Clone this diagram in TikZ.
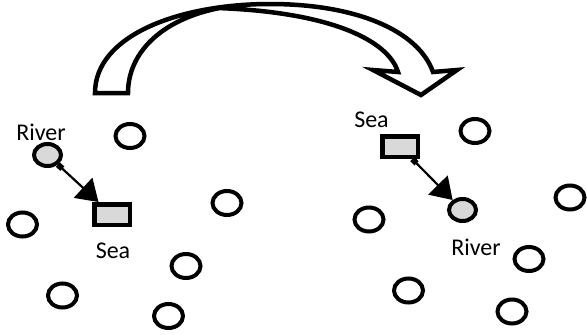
\documentclass[tikz,border=0pt]{standalone}
\usepackage{fontspec}
\setmainfont{Carlito}
\usetikzlibrary{shapes.geometric,arrows.meta}
\definecolor{lgray}{HTML}{D9D9D9}
\tikzset{
  ring/.style={ellipse, draw, line width=4pt, minimum width=29pt, minimum height=24pt, inner sep=0pt},
  river/.style={ellipse, draw, fill=lgray, line width=4pt, minimum width=27pt, minimum height=22pt, inner sep=0pt},
  seabox/.style={rectangle, draw, fill=lgray, line width=4.5pt, minimum width=35.5pt, minimum height=20.5pt, inner sep=0pt},
  lbl/.style={font=\fontsize{24}{28}\selectfont, anchor=base, inner sep=0pt},
  conn/.style={line width=2.2pt, {Square[length=6pt,width=6pt]}-{Triangle[length=21pt,width=27pt]}},
  bigarrow/.style={fill=white, draw, line width=4.5pt, line join=miter}
}
\begin{document}
\begin{tikzpicture}[x=1pt,y=-1pt]
\useasboundingbox (0,0) rectangle (587,335);
% big curved arrow
\path[bigarrow]
  (95,93) .. controls (95,35) and (180,4) .. (270,4)
  .. controls (355,4) and (418,30) .. (433,72)
  -- (457,70) -- (421,95) -- (373,70) -- (398,72)
  .. controls (388,40) and (330,12) .. (217,8)
  -- (243,5)
  .. controls (175,10) and (128,45) .. (128,93)
  -- cycle;
% left scene
\node[ring] (c1) at (130,136) {};
\node[ring] (c2) at (227,203) {};
\node[ring] (c3) at (22.5,224.5) {};
\node[ring] (c4) at (186,266) {};
\node[ring] (c5) at (62.5,295.5) {};
\node[ring] (c6) at (168.5,316) {};
\node[river] (rl) at (47.5,155) {};
\node[seabox] (sl) at (112,214.5) {};
\node[lbl] (trl) at (41,140) {River};
\node[lbl] (tsl) at (113,258) {Sea};
\draw[conn] (rl) -- (sl);
% right scene
\node[ring] (d1) at (475,131) {};
\node[ring] (d2) at (570,197.5) {};
\node[ring] (d3) at (369,219.5) {};
\node[ring] (d4) at (529,259) {};
\node[ring] (d5) at (408.5,290.5) {};
\node[ring] (d6) at (512,311.5) {};
\node[river] (rr) at (462.5,210) {};
\node[seabox] (sr) at (400,146.5) {};
\node[lbl] (tsr) at (371.5,127) {Sea};
\node[lbl] (trr) at (476,255) {River};
\draw[conn] (sr) -- (rr);
\end{tikzpicture}
\end{document}
